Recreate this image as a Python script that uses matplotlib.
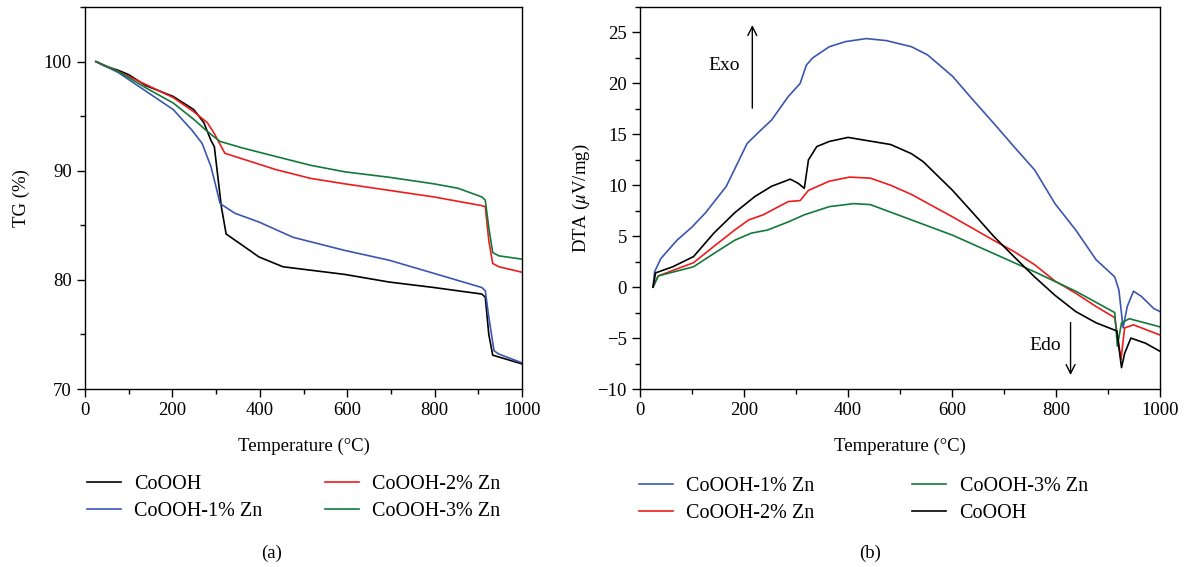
import numpy as np
import matplotlib
matplotlib.use("Agg")
import matplotlib.pyplot as plt
from matplotlib.ticker import MultipleLocator

plt.rcParams['font.family'] = ['Liberation Serif', 'DejaVu Serif']
plt.rcParams['mathtext.fontset'] = 'stix'

# ---- TG data (a) ----
tg_t_black = [25, 45, 76, 100, 139, 202, 249, 272, 288, 296, 312, 323, 359, 398, 453, 594, 696, 798, 908, 916, 924, 933, 1000]
tg_black = [100, 99.6, 99.2, 98.8, 97.8, 96.8, 95.6, 94.4, 92.8, 92.2, 86.7, 84.2, 83.2, 82.1, 81.2, 80.5, 79.8, 79.3, 78.7, 78.4, 75.0, 73.1, 72.3]

tg_t_blue = [25, 76, 139, 202, 245, 268, 288, 300, 309, 343, 398, 476, 594, 696, 798, 908, 916, 924, 936, 947, 1000]
tg_blue = [100, 99.0, 97.3, 95.6, 93.7, 92.5, 90.4, 88.5, 87.0, 86.1, 85.3, 83.9, 82.7, 81.8, 80.6, 79.3, 79.0, 76.6, 73.5, 73.2, 72.4]

tg_t_red = [25, 76, 139, 202, 249, 280, 296, 308, 320, 359, 437, 516, 594, 696, 798, 908, 916, 924, 933, 947, 1000]
tg_red = [100, 99.1, 97.9, 96.7, 95.4, 94.4, 93.4, 92.5, 91.6, 91.1, 90.1, 89.3, 88.8, 88.2, 87.6, 86.8, 86.7, 83.6, 81.5, 81.2, 80.7]

tg_t_green = [25, 76, 139, 202, 249, 280, 308, 359, 437, 516, 594, 696, 798, 853, 908, 916, 924, 933, 947, 1000]
tg_green = [100, 99.1, 97.6, 96.2, 94.7, 93.6, 92.7, 92.1, 91.3, 90.5, 89.9, 89.4, 88.8, 88.4, 87.6, 87.3, 84.8, 82.5, 82.2, 81.9]

# ---- DTA data (b) ----
dta_t_blue = [25, 28, 40, 71, 100, 126, 166, 206, 230, 253, 285, 308, 320, 332, 364, 395, 435, 474, 522, 553, 601, 640, 680, 719, 759, 798, 838, 877, 913, 921, 929, 937, 949, 964, 988, 1000]
dta_blue = [0, 1.5, 2.8, 4.6, 5.9, 7.3, 9.9, 14.1, 15.3, 16.4, 18.7, 20.0, 21.8, 22.5, 23.6, 24.1, 24.4, 24.2, 23.6, 22.8, 20.7, 18.4, 16.1, 13.8, 11.5, 8.2, 5.6, 2.7, 1.0, -0.3, -4.0, -1.9, -0.4, -0.9, -2.1, -2.4]

dta_t_black = [25, 30, 63, 103, 142, 182, 221, 253, 289, 304, 316, 324, 340, 364, 400, 435, 482, 522, 545, 601, 640, 680, 719, 759, 798, 838, 877, 917, 926, 932, 944, 972, 1000]
dta_black = [0, 1.4, 2.0, 3.0, 5.3, 7.3, 8.9, 9.9, 10.6, 10.2, 9.7, 12.5, 13.8, 14.3, 14.7, 14.4, 14.0, 13.1, 12.3, 9.5, 7.3, 5.0, 3.0, 1.0, -0.8, -2.4, -3.5, -4.3, -7.9, -6.5, -5.0, -5.5, -6.3]

dta_t_red = [25, 35, 103, 142, 182, 209, 237, 285, 308, 324, 364, 403, 443, 482, 522, 601, 680, 719, 759, 798, 838, 877, 913, 925, 932, 949, 1000]
dta_red = [0, 1.1, 2.4, 4.0, 5.6, 6.6, 7.1, 8.4, 8.5, 9.5, 10.4, 10.8, 10.7, 10.0, 9.1, 6.9, 4.6, 3.5, 2.2, 0.6, -0.6, -1.9, -3.0, -7.1, -4.0, -3.7, -4.7]

dta_t_green = [25, 35, 103, 142, 182, 214, 245, 285, 316, 364, 411, 443, 522, 601, 680, 759, 838, 913, 918, 926, 941, 1000]
dta_green = [0, 1.1, 2.0, 3.3, 4.6, 5.3, 5.6, 6.4, 7.1, 7.9, 8.2, 8.1, 6.6, 5.1, 3.3, 1.5, -0.4, -2.5, -5.8, -3.5, -3.1, -3.9]

c_black = '#000000'
c_blue = '#3b56b0'
c_red = '#ee1c1c'
c_green = '#12793a'
lw = 1.2
fs_tick = 13.5
fs_text = 14.5

fig = plt.figure(figsize=(11.86, 5.67), dpi=100)
ax1 = fig.add_axes([85/1186, 1-389/567, 437/1186, 382/567])
ax2 = fig.add_axes([640/1186, 1-389/567, 520/1186, 382/567])

def style(ax):
    for s in ['left', 'bottom', 'right', 'top']:
        ax.spines[s].set_linewidth(1.0)
    ax.tick_params(which='major', direction='out', length=6, width=1, labelsize=fs_tick, top=False, right=False)
    ax.tick_params(which='minor', direction='out', length=3.5, width=1, top=False, right=False)
    ax.set_xlim(0, 1000)
    ax.xaxis.set_major_locator(MultipleLocator(200))
    ax.xaxis.set_minor_locator(MultipleLocator(100))
    ax.set_xlabel('Temperature (°C)', fontsize=13.5, labelpad=13)

leg_kw = dict(ncol=2, frameon=False, fontsize=fs_text, handlelength=1.7, handletextpad=0.65,
              borderpad=0, borderaxespad=0, labelspacing=0.4, loc='upper left',
              bbox_transform=fig.transFigure)

ax1.plot(tg_t_black, tg_black, color=c_black, lw=lw, label='CoOOH')
ax1.plot(tg_t_blue, tg_blue, color=c_blue, lw=lw, label='CoOOH-1% Zn')
ax1.plot(tg_t_red, tg_red, color=c_red, lw=lw, label='CoOOH-2% Zn')
ax1.plot(tg_t_green, tg_green, color=c_green, lw=lw, label='CoOOH-3% Zn')
style(ax1)
ax1.set_ylim(70, 105)
ax1.yaxis.set_major_locator(MultipleLocator(10))
ax1.yaxis.set_minor_locator(MultipleLocator(5))
ax1.set_ylabel('TG (%)', fontsize=13.5, labelpad=10)
ax1.legend(bbox_to_anchor=(87/1186, 1-475/567), columnspacing=3.1, **leg_kw)

ax2.plot(dta_t_blue, dta_blue, color=c_blue, lw=lw, label='CoOOH-1% Zn')
ax2.plot(dta_t_red, dta_red, color=c_red, lw=lw, label='CoOOH-2% Zn')
ax2.plot(dta_t_green, dta_green, color=c_green, lw=lw, label='CoOOH-3% Zn')
ax2.plot(dta_t_black, dta_black, color=c_black, lw=lw, label='CoOOH')
style(ax2)
ax2.set_ylim(-10, 27.5)
ax2.yaxis.set_major_locator(MultipleLocator(5))
ax2.yaxis.set_minor_locator(MultipleLocator(2.5))
ax2.set_ylabel(r'DTA ($\mu$V/mg)', fontsize=13.5)
ax2.annotate('', xy=(216, 26), xytext=(216, 17.3),
             arrowprops=dict(arrowstyle='->', color='black', lw=1.0, mutation_scale=16))
ax2.text(162, 21.8, 'Exo', fontsize=14, ha='center', va='center')
ax2.annotate('', xy=(828, -8.9), xytext=(828, -3.2),
             arrowprops=dict(arrowstyle='->', color='black', lw=1.0, mutation_scale=16))
ax2.text(779, -5.7, 'Edo', fontsize=14, ha='center', va='center')
ax2.legend(bbox_to_anchor=(639/1186, 1-477/567), columnspacing=4.85, **leg_kw)

fig.text(272/1186, 1-553/567, '(a)', fontsize=13.5, ha='center', va='center')
fig.text(870/1186, 1-553/567, '(b)', fontsize=13.5, ha='center', va='center')

fig.savefig('out.png', dpi=100)
